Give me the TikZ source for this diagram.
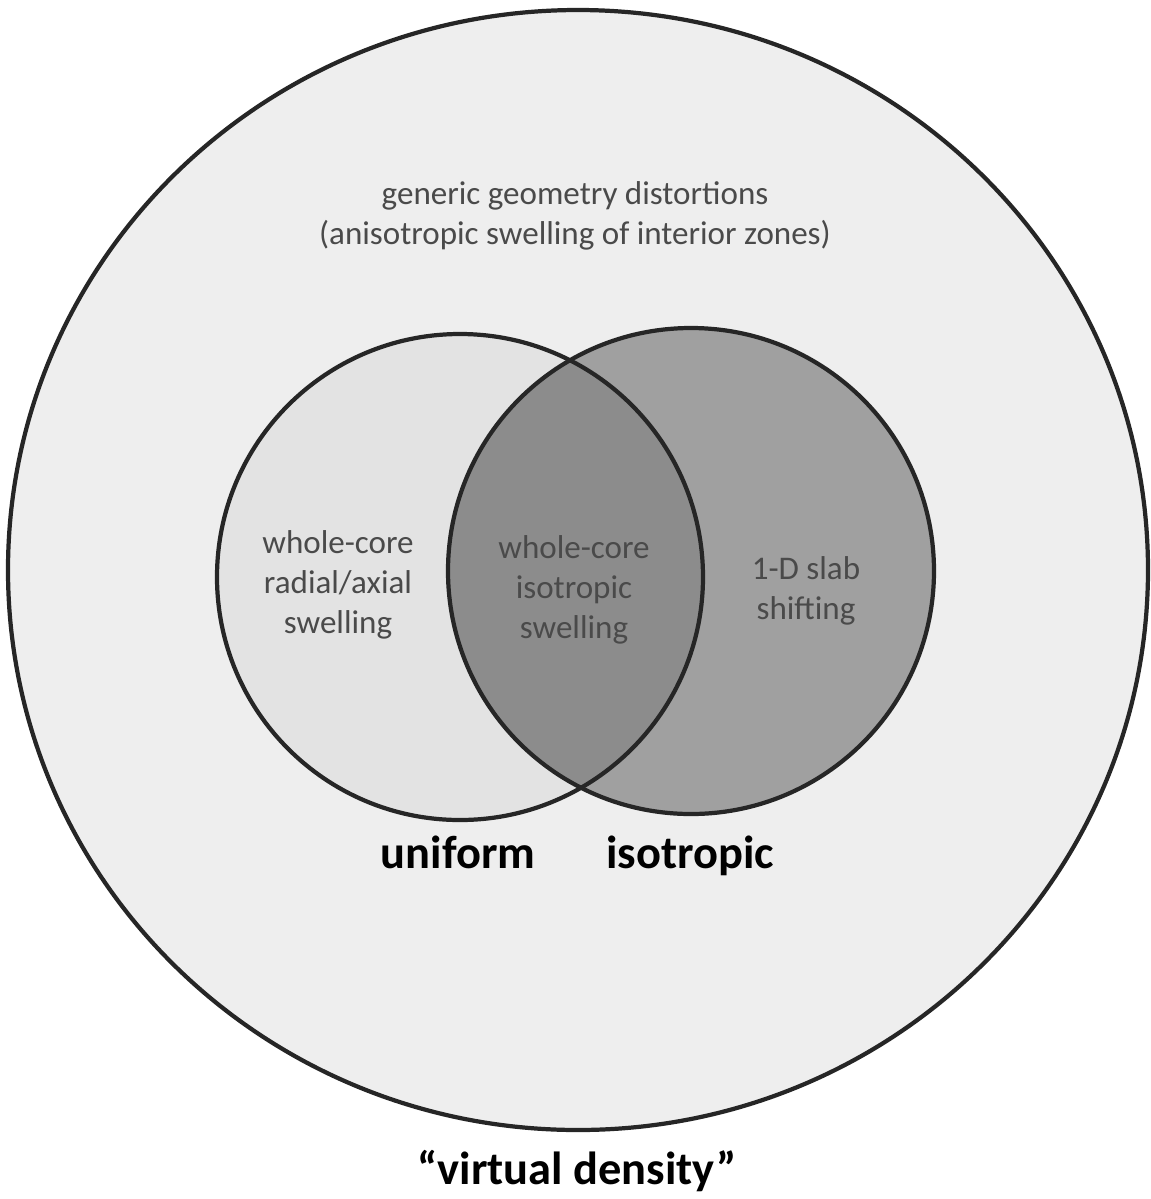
\documentclass[tikz,border=0pt]{standalone}
\usepackage{fontspec}
\setmainfont{Carlito}
\definecolor{bigfill}{HTML}{EEEEEE}
\definecolor{unifill}{HTML}{E3E3E3}
\definecolor{isofill}{HTML}{A0A0A0}
\definecolor{bothfill}{HTML}{8C8C8C}
\definecolor{labeltext}{HTML}{4A4A4A}
\tikzset{
	ring/.style={draw=black!85, line width=1.2pt},
	small/.style={font=\fontsize{9.4}{11.3}\selectfont, text=labeltext, align=center},
	big/.style={font=\fontsize{13.2}{15}\selectfont\bfseries, text=black, anchor=base}
}
\begin{document}
\begin{tikzpicture}[x=0.01cm, y=-0.01cm]
		\useasboundingbox (0,0) rectangle (1150,1199);
		% outer circle
		\draw[ring, fill=bigfill] (578,570) ellipse [x radius=570, y radius=560];
		\node[small] (generic) at (575,216) {generic geometry distortions\\(anisotropic swelling of interior zones)};
		
		% two inner circles
		\fill[unifill] (460,577) circle (243);
		\fill[isofill] (691,571) circle (243);
		\begin{scope}
			\clip (460,577) circle (243);
			\fill[bothfill] (691,571) circle (243);
		\end{scope}
		\draw[ring] (460,577) circle (243);
		\draw[ring] (691,571) circle (243);
		
		\node[small] (radial) at (338,585) {whole-core\\radial/axial\\swelling};
		\node[small] (wholeiso) at (574,590) {whole-core\\isotropic\\swelling};
		\node[small] (slab) at (806,591) {1-D slab\\shifting};
		
		\node[big] (uniform) at (458,868) {uniform};
		\node[big] (isotropic) at (690,868) {isotropic};
		\node[big] (virtual) at (577,1184) {“virtual density”};
	\end{tikzpicture}
\end{document}
